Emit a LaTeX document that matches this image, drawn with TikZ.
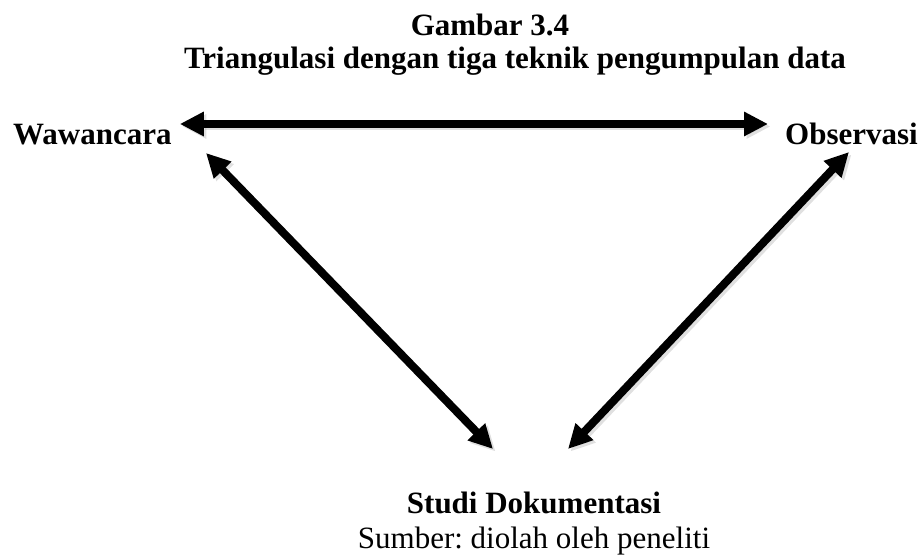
\documentclass[tikz,border=0pt]{standalone}
\usepackage{fontspec}
\setmainfont{Liberation Serif}
\usetikzlibrary{arrows.meta}
\frenchspacing

\tikzset{
  label text/.style={inner sep=0pt, font=\fontsize{31}{35}\selectfont\bfseries},
  note text/.style={inner sep=0pt, font=\fontsize{31}{35}\selectfont},
  link/.style={line width=8pt, {Triangle[length=24pt,width=23pt]}-{Triangle[length=24pt,width=23pt]}},
  link shadow/.style={link, draw=black!35, opacity=0.35, transform canvas={shift={(2.5pt,-2.5pt)}}}
}

\begin{document}
\begin{tikzpicture}[x=1pt, y=-1pt]
  \useasboundingbox (0,0) rectangle (922,556);

  % caption
  \node[label text, anchor=base] (num) at (490,36) {Gambar 3.4};
  \node[label text, anchor=base] (title) at (515,69) {Triangulasi dengan tiga teknik pengumpulan data};

  % the three techniques
  \node[label text, anchor=base west] (waw) at (13,145) {Wawancara};
  \node[label text, anchor=base west] (obs) at (785,145) {Observasi};
  \node[label text, anchor=base] (doc) at (534,513) {Studi Dokumentasi};
  \node[note text, anchor=base] (src) at (534,548) {Sumber: diolah oleh peneliti};

  % arrow ends next to each label
  \coordinate (wR) at ([shift={(8,-21)}]waw.base east);
  \coordinate (oL) at ([shift={(-17,-21)}]obs.base west);
  \coordinate (wD) at (206,153);
  \coordinate (oD) at (849,152);
  \coordinate (dL) at (493,449);
  \coordinate (dR) at (568,449);

  % soft shadows
  \draw[link shadow] (wR) -- (oL);
  \draw[link shadow] (wD) -- (dL);
  \draw[link shadow] (oD) -- (dR);

  % double-headed arrows
  \draw[link] (wR) -- (oL);
  \draw[link] (wD) -- (dL);
  \draw[link] (oD) -- (dR);
\end{tikzpicture}
\end{document}
